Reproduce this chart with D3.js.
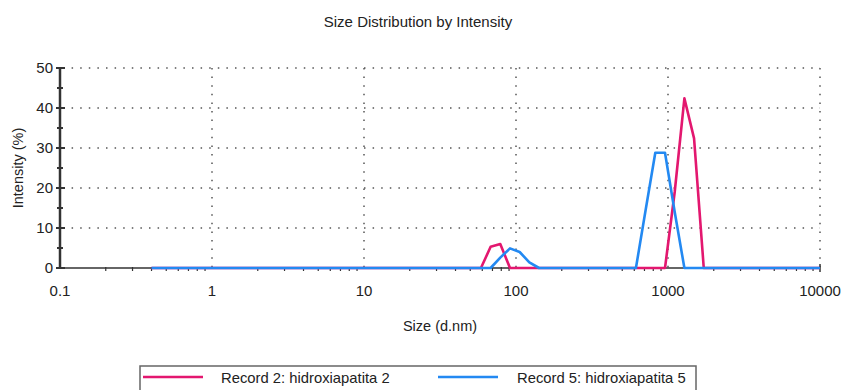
<!DOCTYPE html>
<html>
<head>
<meta charset="utf-8">
<script src="https://cdn.jsdelivr.net/npm/d3@7"></script>
<style>
  body { margin: 0; background: #fff; }
  text { font-family: "Liberation Sans", Arial, sans-serif; fill: #222; }
</style>
</head>
<body>
<svg id="chart" width="841" height="390"></svg>
<script>
// size bins (d.nm) where the curves change, plus the ends of the range
const sizes2 = [0.4, 58.8, 68.1, 78.8, 91.3, 825, 955.6, 1107, 1282, 1484, 1719, 10000];
const record2 = [0, 0, 5.3, 6.0, 0, 0, 0, 19, 42.4, 32.4, 0, 0];

const sizes5 = [0.4, 68.1, 78.8, 91.3, 105.7, 122.4, 141.8, 615.2, 712.6, 825, 955.6, 1107, 1282, 10000];
const record5 = [0, 0, 2.6, 4.9, 4.0, 1.4, 0, 0, 14.5, 28.8, 28.8, 14, 0, 0];

const xTicks = [0.1, 1, 10, 100, 1000, 10000];
const yTicks = [0, 10, 20, 30, 40, 50];
const legendNames = ["Record 2: hidroxiapatita 2", "Record 5: hidroxiapatita 5"];
const colors = ["#e3176f", "#2389f2"];

const svg = d3.select("#chart");
const x = d3.scaleLog().domain([0.1, 10000]).range([60, 820]);
const y = d3.scaleLinear().domain([0, 50]).range([268, 68]);

// title
svg.append("text").attr("x", 418).attr("y", 27).attr("text-anchor", "middle")
  .style("font-size", "15px").text("Size Distribution by Intensity");

// dotted grid
const grid = svg.append("g").attr("stroke", "#555").attr("stroke-width", 1.5)
  .attr("stroke-dasharray", "1.5,7.1");
grid.selectAll(".h").data(yTicks.slice(1)).join("line")
  .attr("x1", x(0.1) + 3).attr("x2", x(10000)).attr("y1", d => y(d)).attr("y2", d => y(d));
grid.selectAll(".v").data(xTicks.slice(1)).join("line")
  .attr("x1", d => x(d)).attr("x2", d => x(d)).attr("y1", y(50)).attr("y2", y(0));

// x axis line + minor ticks
const axisCol = "#333";
svg.append("line").attr("x1", x(0.1)).attr("x2", x(10000)).attr("y1", y(0)).attr("y2", y(0))
  .attr("stroke", axisCol).attr("stroke-width", 1.5);
const minor = [];
for (let dec = 0.1; dec < 10000; dec *= 10) {
  for (let k = 2; k <= 9; k++) minor.push(dec * k);
}
svg.append("g").selectAll("line").data(minor).join("line")
  .attr("x1", d => x(d)).attr("x2", d => x(d)).attr("y1", y(0) - 1).attr("y2", y(0) + 3)
  .attr("stroke", axisCol).attr("stroke-width", 1.2);
svg.append("line").attr("x1", x(10000)).attr("x2", x(10000)).attr("y1", y(0) - 4).attr("y2", y(0) + 4)
  .attr("stroke", axisCol).attr("stroke-width", 1.5);

svg.append("g").selectAll("text").data(xTicks).join("text")
  .attr("x", d => x(d)).attr("y", 296).attr("text-anchor", "middle")
  .style("font-size", "15px").text(d => d);

svg.append("text").attr("x", 440).attr("y", 331).attr("text-anchor", "middle")
  .style("font-size", "14.5px").text("Size (d.nm)");

// y axis
svg.append("line").attr("x1", 60).attr("x2", 60).attr("y1", y(50)).attr("y2", y(0))
  .attr("stroke", axisCol).attr("stroke-width", 2.5);
svg.append("g").selectAll("line").data(d3.range(0, 51, 5)).join("line")
  .attr("x1", d => d % 10 === 0 ? 56 : 57).attr("x2", d => d % 10 === 0 ? 65 : 63)
  .attr("y1", d => y(d)).attr("y2", d => y(d))
  .attr("stroke", axisCol).attr("stroke-width", 2);
svg.append("g").selectAll("text").data(yTicks).join("text")
  .attr("x", 53).attr("y", d => y(d) + 5).attr("text-anchor", "end")
  .style("font-size", "15px").text(d => d);

svg.append("text").attr("transform", "translate(23,168) rotate(-90)").attr("text-anchor", "middle")
  .style("font-size", "14.5px").text("Intensity (%)");

// curves
const line = d3.line().x(d => x(d[0])).y(d => y(d[1]));
const series = [d3.zip(sizes2, record2), d3.zip(sizes5, record5)];
svg.append("g").selectAll("path").data(series).join("path")
  .attr("d", line).attr("fill", "none")
  .attr("stroke", (d, i) => colors[i]).attr("stroke-width", 2.6)
  .attr("stroke-linejoin", "round");

// legend
svg.append("rect").attr("x", 140).attr("y", 366).attr("width", 556).attr("height", 40)
  .attr("fill", "none").attr("stroke", "#666").attr("stroke-width", 1.5);
const leg = [[143, 203, 221], [438, 498, 517]];
leg.forEach((p, i) => {
  svg.append("line").attr("x1", p[0]).attr("x2", p[1]).attr("y1", 377).attr("y2", 377)
    .attr("stroke", colors[i]).attr("stroke-width", 2.6);
  svg.append("text").attr("x", p[2]).attr("y", 382.5).style("font-size", "14.8px").text(legendNames[i]);
});
</script>
</body>
</html>
